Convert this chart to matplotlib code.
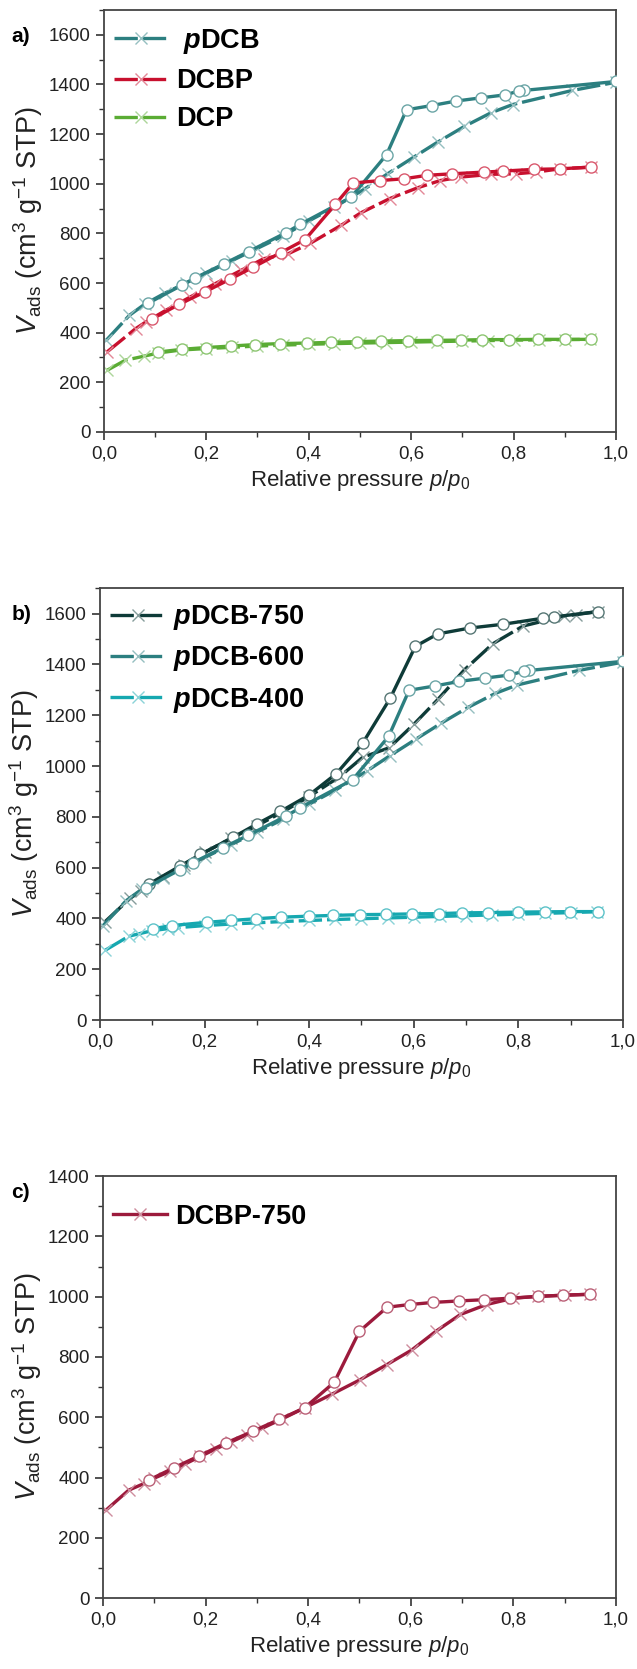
import numpy as np
import matplotlib
matplotlib.use("Agg")
import matplotlib.pyplot as plt
from matplotlib.ticker import MultipleLocator, FuncFormatter
from matplotlib.colors import to_rgb

plt.rcParams['font.family'] = ['Liberation Sans', 'DejaVu Sans']
plt.rcParams['mathtext.fontset'] = 'custom'
plt.rcParams['mathtext.rm'] = 'Liberation Sans'
plt.rcParams['mathtext.it'] = 'Liberation Sans:italic'
plt.rcParams['mathtext.bf'] = 'Liberation Sans:bold'
plt.rcParams['mathtext.bfit'] = 'Liberation Sans:italic:bold'

#--------------------------------------------------------------------------------------------------
# panel a / b : pDCB (= pDCB-600)
pdcb_ads_p = [0.005, 0.05, 0.08, 0.12, 0.16, 0.20, 0.25, 0.30, 0.35, 0.40, 0.45, 0.51,
              0.554, 0.605, 0.652, 0.704, 0.756, 0.798, 0.915, 1.0]
pdcb_ads_v = [370, 470, 515, 560, 600, 640, 690, 740, 790, 850, 905, 980,
              1040, 1107, 1168, 1231, 1286, 1319, 1376, 1409]
pdcb_des_p = [1.0, 0.82, 0.81, 0.783, 0.736, 0.687, 0.64, 0.591, 0.552, 0.483, 0.383, 0.356,
              0.283, 0.235, 0.178, 0.152, 0.087]
pdcb_des_v = [1412, 1376, 1373, 1358, 1346, 1333, 1315, 1298, 1117, 946, 836, 803,
              727, 678, 620, 591, 519]

# DCBP
dcbp_ads_p = [0.006, 0.062, 0.082, 0.121, 0.169, 0.217, 0.268, 0.312, 0.36, 0.403, 0.463, 0.502,
              0.558, 0.613, 0.657, 0.697, 0.756, 0.804, 0.844, 0.89, 0.951]
dcbp_ads_v = [322, 416, 443, 490, 544, 597, 651, 698, 718, 760, 832, 883,
              940, 984, 1013, 1027, 1038, 1040, 1047, 1060, 1067]
dcbp_des_p = [0.951, 0.89, 0.84, 0.78, 0.743, 0.679, 0.631, 0.586, 0.54, 0.487, 0.452, 0.393,
              0.345, 0.292, 0.247, 0.198, 0.147, 0.095]
dcbp_des_v = [1067, 1060, 1058, 1051, 1047, 1040, 1034, 1020, 1013, 1003, 917, 775,
              722, 664, 616, 565, 514, 456]

# DCP
dcp_ads_p = [0.006, 0.042, 0.078, 0.106, 0.15, 0.20, 0.25, 0.30, 0.35, 0.40, 0.45, 0.50,
             0.55, 0.60, 0.65, 0.70, 0.75, 0.80, 0.85, 0.90, 0.95]
dcp_ads_v = [248, 289, 305, 318, 330, 336, 341, 346, 350, 353, 356, 358,
             360, 362, 364, 366, 368, 370, 371, 372, 373]
dcp_des_p = [0.951, 0.90, 0.848, 0.792, 0.739, 0.698, 0.65, 0.594, 0.542, 0.494, 0.443, 0.396,
             0.344, 0.296, 0.248, 0.199, 0.153, 0.106]
dcp_des_v = [373, 373, 373, 372, 372, 370, 369, 368, 366, 364, 361, 358,
             356, 352, 346, 340, 333, 322]

# pDCB-750
p750_ads_p = [0.01, 0.058, 0.078, 0.12, 0.16, 0.20, 0.25, 0.30, 0.35, 0.40, 0.459, 0.502,
              0.553, 0.60, 0.646, 0.697, 0.751, 0.809, 0.887, 0.91, 0.953]
p750_ads_v = [388, 480, 508, 565, 612, 660, 715, 765, 820, 880, 959, 1034,
              1072, 1164, 1262, 1379, 1481, 1551, 1590, 1596, 1608]
p750_des_p = [0.953, 0.869, 0.848, 0.771, 0.707, 0.646, 0.603, 0.555, 0.502, 0.452, 0.40, 0.345,
              0.301, 0.254, 0.192, 0.153, 0.094]
p750_des_v = [1608, 1587, 1582, 1558, 1543, 1520, 1471, 1267, 1089, 970, 886, 821,
              773, 719, 652, 606, 536]

# pDCB-400
p400_ads_p = [0.01, 0.055, 0.075, 0.10, 0.13, 0.15, 0.20, 0.25, 0.30, 0.35, 0.40, 0.45,
              0.50, 0.55, 0.60, 0.65, 0.70, 0.75, 0.80, 0.85, 0.90, 0.95]
p400_ads_v = [275, 330, 340, 352, 360, 364, 372, 378, 383, 388, 392, 396,
              399, 402, 405, 408, 411, 414, 417, 420, 423, 427]
p400_des_p = [0.953, 0.899, 0.851, 0.80, 0.741, 0.692, 0.648, 0.597, 0.547, 0.497, 0.446, 0.40,
              0.346, 0.299, 0.251, 0.205, 0.137, 0.102]
p400_des_v = [427, 427, 426, 425, 423, 422, 419, 418, 416, 415, 412, 409,
              405, 399, 392, 385, 372, 360]

# DCBP-750
d750_ads_p = [0.006, 0.05, 0.08, 0.10, 0.13, 0.16, 0.19, 0.22, 0.25, 0.28, 0.31, 0.35,
              0.393, 0.447, 0.502, 0.554, 0.602, 0.649, 0.697, 0.748, 0.80, 0.848, 0.90, 0.949]
d750_ads_v = [292, 358, 380, 398, 420, 445, 470, 495, 518, 542, 563, 595,
              631, 677, 725, 775, 823, 885, 941, 974, 995, 1001, 1005, 1008]
d750_des_p = [0.949, 0.898, 0.848, 0.794, 0.743, 0.695, 0.644, 0.598, 0.554, 0.50, 0.451, 0.393,
              0.344, 0.293, 0.239, 0.188, 0.139, 0.09]
d750_des_v = [1008, 1005, 1001, 995, 990, 986, 981, 974, 965, 885, 716, 631,
              593, 554, 514, 472, 433, 392]

#--------------------------------------------------------------------------------------------------

def lighter(c, f=0.45):
    r, g, b = to_rgb(c)
    return (r + (1 - r) * f, g + (1 - g) * f, b + (1 - b) * f)

def isotherm(ax, ads_p, ads_v, des_p, des_v, color, label, dashed=True):
    ls = (0, (7, 1.5)) if dashed else '-'
    ax.plot(des_p, des_v, '-', color=color, lw=2.4, marker='o', ms=8,
            mfc='white', mec=lighter(color, 0.3), mew=1.0, zorder=3)
    ax.plot(ads_p, ads_v, linestyle=ls, color=color, lw=2.4, marker='x', ms=9,
            mec=lighter(color, 0.5), mew=1.0, zorder=2, label=label)

def style_axis(ax, ymax):
    ax.set_xlim(0, 1.0)
    ax.set_ylim(0, ymax)
    ax.xaxis.set_major_locator(MultipleLocator(0.2))
    ax.xaxis.set_minor_locator(MultipleLocator(0.1))
    ax.yaxis.set_major_locator(MultipleLocator(200))
    ax.yaxis.set_minor_locator(MultipleLocator(100))
    ax.xaxis.set_major_formatter(FuncFormatter(lambda v, pos: ('%.1f' % v).replace('.', ',')))
    ax.tick_params(which='major', direction='out', length=6, width=1.2, labelsize=13.5,
                   colors='#333333', labelcolor='#222222', top=False, right=False)
    ax.tick_params(which='minor', direction='out', length=3.5, width=1.0, colors='#333333')
    for s in ax.spines.values():
        s.set_color('#444444')
        s.set_linewidth(1.3)
    ax.set_xlabel('Relative pressure $\\mathit{p}/\\mathit{p}_\\mathit{0}$', fontsize=16,
                  color='#222222', labelpad=4)
    ax.set_ylabel('$\\mathit{V}_{\\mathrm{ads}}$ (cm$^3$ g$^{-1}$ STP)', fontsize=19.5,
                  color='#222222', labelpad=3)

def add_legend(ax, y0, spacing):
    leg = ax.legend(loc='upper left', bbox_to_anchor=(0.02, y0), frameon=False,
                    prop={'weight': 'bold', 'size': 19.5}, handlelength=2.0,
                    handletextpad=0.3, labelspacing=spacing, borderpad=0, borderaxespad=0,
                    numpoints=1)
    return leg

fig = plt.figure(figsize=(6.37, 16.69), dpi=100)

c_pdcb = '#2c7f80'
c_dcbp = '#c8102e'
c_dcp = '#5aac34'
c_750 = '#0e3b38'
c_400 = '#16a8b0'
c_d750 = '#9c1a3c'

# a)
ax1 = fig.add_axes([0.163, 0.7412, 0.804, 0.2528])
isotherm(ax1, pdcb_ads_p, pdcb_ads_v, pdcb_des_p, pdcb_des_v, c_pdcb, ' $\\mathbfit{p}$DCB')
isotherm(ax1, dcbp_ads_p, dcbp_ads_v, dcbp_des_p, dcbp_des_v, c_dcbp, 'DCBP')
isotherm(ax1, dcp_ads_p, dcp_ads_v, dcp_des_p, dcp_des_v, c_dcp, 'DCP')
style_axis(ax1, 1700)
add_legend(ax1, 0.96, 0.45)
fig.text(0.018, 1 - 36 / 1669, 'a)', fontsize=15, weight='bold', va='center')

# b)
ax2 = fig.add_axes([0.157, 0.3888, 0.821, 0.2588])
isotherm(ax2, p750_ads_p, p750_ads_v, p750_des_p, p750_des_v, c_750, '$\\mathbfit{p}$DCB-750')
isotherm(ax2, pdcb_ads_p, pdcb_ads_v, pdcb_des_p, pdcb_des_v, c_pdcb, '$\\mathbfit{p}$DCB-600')
isotherm(ax2, p400_ads_p, p400_ads_v, p400_des_p, p400_des_v, c_400, '$\\mathbfit{p}$DCB-400')
style_axis(ax2, 1700)
add_legend(ax2, 0.965, 0.45)
fig.text(0.018, 1 - 615 / 1669, 'b)', fontsize=15, weight='bold', va='center')

# c)
ax3 = fig.add_axes([0.1617, 0.0425, 0.805, 0.2528])
isotherm(ax3, d750_ads_p, d750_ads_v, d750_des_p, d750_des_v, c_d750, 'DCBP-750', dashed=False)
style_axis(ax3, 1400)
add_legend(ax3, 0.935, 0.4)
fig.text(0.018, 1 - 1193 / 1669, 'c)', fontsize=15, weight='bold', va='center')

fig.savefig('out.png', dpi=100)
